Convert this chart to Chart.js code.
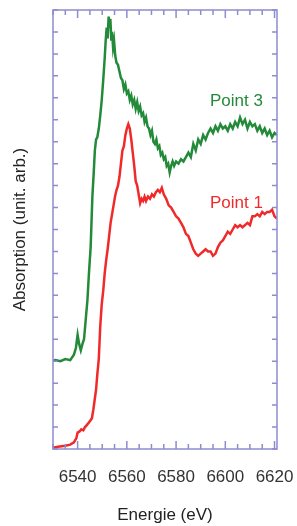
<!DOCTYPE html>
<html>
<head>
<meta charset="utf-8">
<script src="https://cdn.jsdelivr.net/npm/chart.js@4"></script>
<style>
  html, body { margin: 0; padding: 0; background: #fff; }
  canvas { display: block; }
</style>
</head>
<body>
<canvas id="xasCanvas" width="297" height="526"></canvas>
<script>
// Point 3 (vert)
const energy3 = [6529.5,6531,6533,6535,6537,6538.5,6539.3,6540,6540.6,6541.3,6542,6542.6,6543.3,6544,6544.6,6545.3,6546,6546.5,6547,6547.5,
  6548,6548.6,6549.2,6549.8,6550.4,6551,6551.4,6551.8,6552.2,6552.6,6553,6553.3,6553.7,6554,6554.4,6554.8,6555.3,6555.8,6556.4,6557,
  6557.6,6558.2,6558.8,6559.4,6560,6560.6,6561.2,6561.8,6562.4,6563,6563.6,6564.2,6564.8,6565.4,6566,6566.6,6567.2,6567.8,6568.4,6569,
  6569.6,6570.2,6570.8,6571.4,6572,6572.6,6573.2,6573.8,6574.4,6575,6575.6,6576.2,6576.8,6577.4,6578,6578.6,6579.2,6580,6581,6582,
  6583,6584,6585,6586,6587,6588,6589,6590,6591,6592,6593,6594,6595,6596,6597,6598,6599,6600,6601,6602,
  6603,6604,6605,6606,6607,6608,6609,6610,6611,6612,6613,6614,6615,6616,6617,6618,6619,6620,6621];
const absorb3 = [4.0,4.05,4.0,4.1,4.05,4.3,4.6,5.2,4.8,4.5,4.8,5.0,5.9,6.8,8.0,9.2,11.5,12.5,13.6,14.1,
  14.2,14.6,15.2,15.9,16.8,17.8,18.6,19.2,18.7,19.7,19.2,19.6,18.6,19.0,18.3,18.6,17.9,17.6,17.5,17.2,
  16.9,16.8,16.4,16.6,16.2,16.3,15.9,16.1,15.7,15.9,15.5,15.8,15.4,15.6,15.2,15.3,14.9,15.1,14.7,14.6,
  14.3,14.5,14.0,13.9,14.1,13.7,13.8,13.4,13.5,13.2,13.3,12.9,13.0,12.6,12.9,13.1,12.9,13.1,13.0,13.2,
  13.1,13.3,13.5,13.3,13.9,13.6,14.1,13.9,14.3,14.1,14.4,14.6,14.4,14.7,14.5,14.8,14.6,14.7,14.5,14.8,
  14.6,14.9,14.7,15.1,14.8,15.0,14.6,14.9,14.7,14.8,14.5,14.7,14.4,14.6,14.3,14.5,14.2,14.4,14.3];

// Point 1 (rouge)
const energy1 = [6529.5,6532,6535,6537,6538.5,6539.5,6540,6540.8,6541.5,6542.3,6543,6543.8,6544.5,6545.2,6545.8,6546.4,6547,6547.5,6548,6548.6,
  6549.2,6549.8,6550.4,6551,6551.6,6552.2,6552.8,6553.4,6554,6554.6,6555.2,6555.8,6556.4,6557,6557.6,6558.2,6558.8,6559.4,6560,6560.6,
  6561.2,6561.8,6562.4,6563,6563.6,6564.2,6564.8,6565.4,6566,6566.6,6567.2,6567.8,6568.6,6569.4,6570.2,6571,6571.8,6572.6,6573.4,6574.2,
  6575,6576,6577,6578,6579,6580,6581,6582,6583,6584,6585,6586,6587,6588,6589,6590,6591,6592,6593,6594,
  6595,6596,6597,6598,6599,6600,6601,6602,6603,6604,6605,6606,6607,6608,6609,6610,6611,6612,6613,6614,
  6615,6616,6617,6618,6619,6620,6621];
const absorb1 = [0.05,0.1,0.15,0.2,0.3,0.5,0.75,0.8,0.9,0.85,1.0,1.1,1.2,1.3,1.4,1.8,2.3,2.7,3.4,4.1,
  5.6,6.6,7.2,8.0,8.6,9.1,9.7,10.3,10.7,11.1,11.5,11.8,12.0,12.4,13.0,13.6,13.8,14.3,14.6,14.8,
  14.6,14.1,13.5,12.9,12.2,12.0,11.6,11.2,11.4,11.3,11.5,11.3,11.5,11.4,11.6,11.5,11.7,11.8,11.7,11.9,
  11.6,11.4,11.1,11.0,10.8,10.6,10.5,10.3,10.1,9.8,9.7,9.4,9.1,8.9,8.8,8.9,9.0,9.1,9.0,9.0,
  8.8,8.9,9.2,9.4,9.5,9.7,9.9,9.8,10.0,10.2,10.1,10.2,10.1,10.2,10.3,10.2,10.6,10.6,10.7,10.6,
  10.8,10.7,10.8,10.8,10.9,10.6,10.5];

const xTickLabels = [6540, 6560, 6580, 6600, 6620];
const seriesLabels = ["Point 3", "Point 1"];
const labelPos = [[6604.5, 15.86], [6604.5, 11.18]];

const green = "#238a3a";
const red = "#f02a2a";
const frameColor = "#8c8cd0";
const textFont = "'Liberation Sans', Arial, sans-serif";

function toPoints(xs, ys) {
  return xs.map((x, i) => ({ x: x, y: ys[i] }));
}

// cadre + graduations vers l'interieur + etiquettes des courbes
const framePlugin = {
  id: "frame",
  afterDatasetsDraw(chart) {
    const ctx = chart.ctx;
    const a = chart.chartArea;
    const xs = chart.scales.x, ys = chart.scales.y;
    ctx.save();
    ctx.strokeStyle = frameColor;
    ctx.lineWidth = 1.5;
    ctx.strokeRect(a.left, a.top, a.right - a.left, a.bottom - a.top);
    ctx.beginPath();
    xs.ticks.forEach(t => {
      const px = xs.getPixelForValue(t.value);
      const len = xTickLabels.includes(t.value) ? 8 : 5;
      ctx.moveTo(px, a.bottom); ctx.lineTo(px, a.bottom - len);
      ctx.moveTo(px, a.top); ctx.lineTo(px, a.top + len);
    });
    ys.ticks.forEach(t => {
      const py = ys.getPixelForValue(t.value);
      ctx.moveTo(a.left, py); ctx.lineTo(a.left + 5, py);
      ctx.moveTo(a.right, py); ctx.lineTo(a.right - 5, py);
    });
    ctx.stroke();

    ctx.font = "17px " + textFont;
    ctx.textAlign = "center";
    ctx.textBaseline = "middle";
    [green, red].forEach((c, i) => {
      ctx.fillStyle = c;
      ctx.fillText(seriesLabels[i], xs.getPixelForValue(labelPos[i][0]), ys.getPixelForValue(labelPos[i][1]));
    });
    ctx.restore();
  }
};

const xasChart = new Chart(document.getElementById("xasCanvas"), {
  type: "line",
  data: {
    datasets: [
      { label: seriesLabels[0], data: toPoints(energy3, absorb3), borderColor: green, borderWidth: 2.5 },
      { label: seriesLabels[1], data: toPoints(energy1, absorb1), borderColor: red, borderWidth: 2.5 }
    ]
  },
  options: {
    responsive: false,
    animation: false,
    elements: { point: { radius: 0 }, line: { tension: 0 } },
    layout: { padding: { top: 10, right: 20, left: 0, bottom: 0 } },
    plugins: { legend: { display: false }, tooltip: { enabled: false } },
    scales: {
      x: {
        type: "linear",
        min: 6530,
        max: 6621,
        afterBuildTicks: s => {
          const t = [];
          for (let v = 6530; v <= 6620; v += 5) t.push({ value: v });
          s.ticks = t;
        },
        afterFit: s => { s.height = 77; s.paddingRight = 0; s.paddingLeft = 0; },
        grid: { display: false },
        border: { display: false },
        ticks: {
          autoSkip: false,
          maxRotation: 0,
          padding: 10,
          color: "#333",
          font: { family: textFont, size: 17 },
          callback: v => xTickLabels.includes(v) ? String(v) : ""
        },
        title: {
          display: true,
          text: "Energie (eV)",
          color: "#222",
          font: { family: textFont, size: 17 },
          padding: { top: 0, bottom: 0 }
        }
      },
      y: {
        type: "linear",
        min: 0,
        max: 20,
        afterFit: s => { s.width = 53; },
        grid: { display: false },
        border: { display: false },
        ticks: { stepSize: 1, display: false },
        title: {
          display: true,
          text: "Absorption (unit. arb.)",
          color: "#222",
          font: { family: textFont, size: 17 },
          padding: { top: 10, bottom: 0 }
        }
      }
    }
  },
  plugins: [framePlugin]
});
</script>
</body>
</html>
